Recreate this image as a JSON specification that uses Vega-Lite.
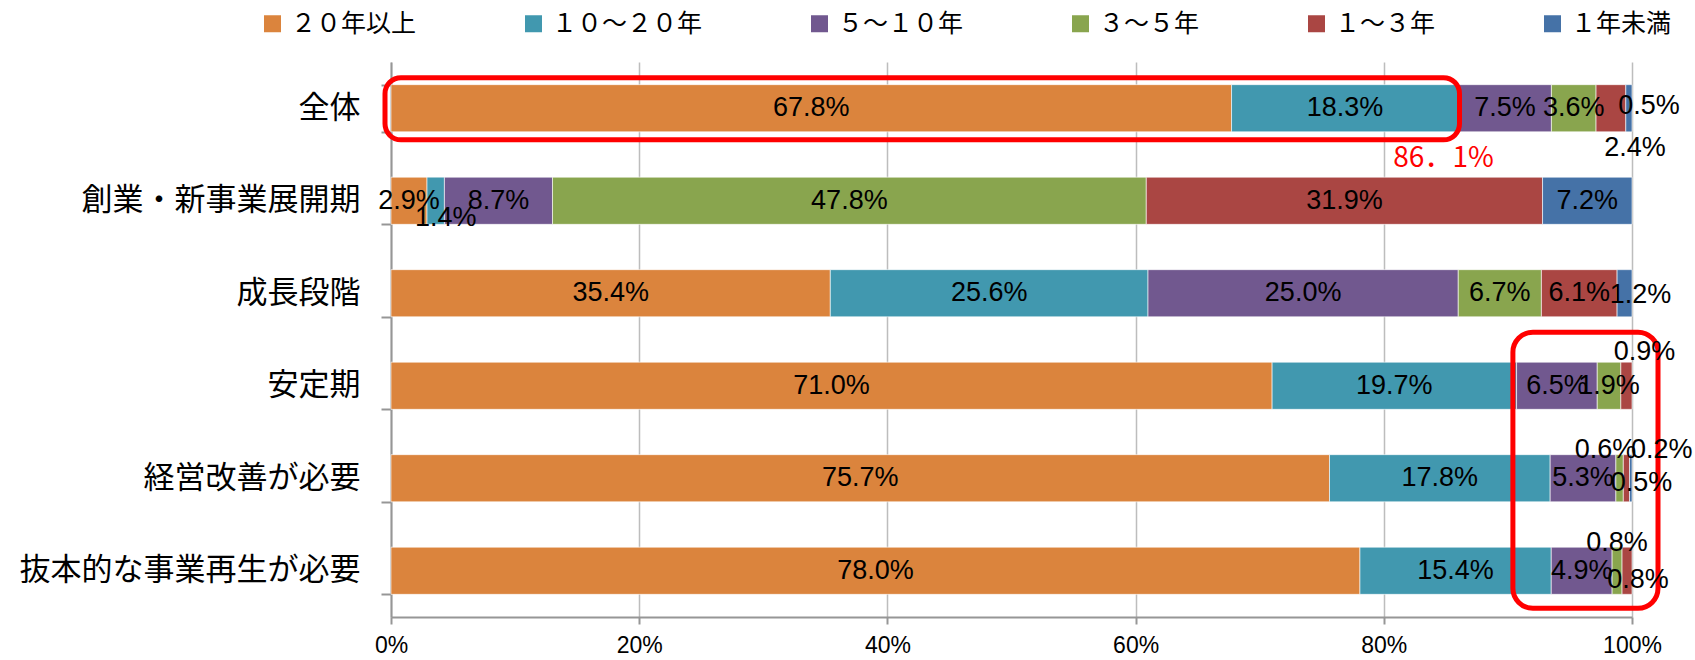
{
  "$schema": "https://vega.github.io/schema/vega-lite/v6.json",
  "width": 1241,
  "height": 555,
  "autosize": {"type": "none"},
  "padding": {"left": 391, "top": 62, "right": 63, "bottom": 43},
  "background": "#ffffff",
  "config": {
    "view": {"stroke": null},
    "axisX": {
      "grid": true, "gridColor": "#bdbdbd", "gridWidth": 1.5,
      "domainColor": "#969696", "domainWidth": 2,
      "tickColor": "#969696", "tickWidth": 2, "tickSize": 7,
      "labelFont": "Liberation Sans", "labelFontSize": 23, "labelColor": "#000000",
      "labelPadding": 10, "labelFlush": false, "labelOverlap": false
    },
    "axisY": {
      "grid": false, "domainColor": "#969696", "domainWidth": 2,
      "tickColor": "#969696", "tickWidth": 2, "tickSize": 10, "tickBand": "extent",
      "labelFont": "Noto Sans CJK JP", "labelFontSize": 31, "labelColor": "#000000",
      "labelPadding": 21, "labelLimit": 400
    }
  },
  "data": {"values": [
    {"c": "全体", "s": "２０年以上", "o": 1, "v": 0.678},
    {"c": "全体", "s": "１０～２０年", "o": 2, "v": 0.183},
    {"c": "全体", "s": "５～１０年", "o": 3, "v": 0.075},
    {"c": "全体", "s": "３～５年", "o": 4, "v": 0.036},
    {"c": "全体", "s": "１～３年", "o": 5, "v": 0.024},
    {"c": "全体", "s": "１年未満", "o": 6, "v": 0.005},
    {"c": "創業・新事業展開期", "s": "２０年以上", "o": 1, "v": 0.029},
    {"c": "創業・新事業展開期", "s": "１０～２０年", "o": 2, "v": 0.014},
    {"c": "創業・新事業展開期", "s": "５～１０年", "o": 3, "v": 0.087},
    {"c": "創業・新事業展開期", "s": "３～５年", "o": 4, "v": 0.478},
    {"c": "創業・新事業展開期", "s": "１～３年", "o": 5, "v": 0.319},
    {"c": "創業・新事業展開期", "s": "１年未満", "o": 6, "v": 0.072},
    {"c": "成長段階", "s": "２０年以上", "o": 1, "v": 0.354},
    {"c": "成長段階", "s": "１０～２０年", "o": 2, "v": 0.256},
    {"c": "成長段階", "s": "５～１０年", "o": 3, "v": 0.250},
    {"c": "成長段階", "s": "３～５年", "o": 4, "v": 0.067},
    {"c": "成長段階", "s": "１～３年", "o": 5, "v": 0.061},
    {"c": "成長段階", "s": "１年未満", "o": 6, "v": 0.012},
    {"c": "安定期", "s": "２０年以上", "o": 1, "v": 0.710},
    {"c": "安定期", "s": "１０～２０年", "o": 2, "v": 0.197},
    {"c": "安定期", "s": "５～１０年", "o": 3, "v": 0.065},
    {"c": "安定期", "s": "３～５年", "o": 4, "v": 0.019},
    {"c": "安定期", "s": "１～３年", "o": 5, "v": 0.009},
    {"c": "経営改善が必要", "s": "２０年以上", "o": 1, "v": 0.757},
    {"c": "経営改善が必要", "s": "１０～２０年", "o": 2, "v": 0.178},
    {"c": "経営改善が必要", "s": "５～１０年", "o": 3, "v": 0.053},
    {"c": "経営改善が必要", "s": "３～５年", "o": 4, "v": 0.006},
    {"c": "経営改善が必要", "s": "１～３年", "o": 5, "v": 0.005},
    {"c": "経営改善が必要", "s": "１年未満", "o": 6, "v": 0.002},
    {"c": "抜本的な事業再生が必要", "s": "２０年以上", "o": 1, "v": 0.780},
    {"c": "抜本的な事業再生が必要", "s": "１０～２０年", "o": 2, "v": 0.154},
    {"c": "抜本的な事業再生が必要", "s": "５～１０年", "o": 3, "v": 0.049},
    {"c": "抜本的な事業再生が必要", "s": "３～５年", "o": 4, "v": 0.008},
    {"c": "抜本的な事業再生が必要", "s": "１～３年", "o": 5, "v": 0.008}
  ]},
  "layer": [
    {
      "mark": {"type": "bar", "stroke": "#ffffff", "strokeWidth": 1, "strokeOpacity": 0.6},
      "encoding": {
        "y": {"field": "c", "type": "nominal", "title": null,
              "scale": {"domain": ["全体", "創業・新事業展開期", "成長段階", "安定期", "経営改善が必要", "抜本的な事業再生が必要"], "paddingInner": 0.49, "paddingOuter": 0.245}},
        "x": {"field": "v", "type": "quantitative", "stack": "normalize", "title": null,
              "scale": {"domain": [0, 1]},
              "axis": {"values": [0, 0.2, 0.4, 0.6, 0.8, 1], "format": ".0%"}},
        "color": {"field": "s", "type": "nominal",
                  "scale": {"domain": ["２０年以上", "１０～２０年", "５～１０年", "３～５年", "１～３年", "１年未満"],
                            "range": ["#DB843D", "#4198AF", "#71588F", "#89A54E", "#AA4643", "#4572A7"]},
                  "legend": {"orient": "none", "legendX": -131, "legendY": -51, "direction": "horizontal", "title": null,
                             "symbolType": "square", "symbolSize": 289, "symbolStrokeWidth": 0,
                             "labelFont": "Noto Sans CJK JP", "labelFontSize": 25, "labelColor": "#000000",
                             "labelOffset": 6, "columnPadding": 104, "labelLimit": 400}},
        "order": {"field": "o", "type": "quantitative"}
      }
    },
    {
      "data": {"values": [{"c0": "全体", "c1": "全体", "x0": 0, "x1": 0.861}]},
      "mark": {"type": "rect", "fill": null, "fillOpacity": 0, "stroke": "#FF0000", "strokeWidth": 5, "cornerRadius": 16,
               "xOffset": -6, "x2Offset": 0, "yOffset": -7, "y2Offset": 8},
      "encoding": {
        "y": {"field": "c0", "type": "nominal", "title": null, "bandPosition": 0,
              "scale": {"domain": ["全体", "創業・新事業展開期", "成長段階", "安定期", "経営改善が必要", "抜本的な事業再生が必要"]}},
        "y2": {"field": "c1", "bandPosition": 1},
        "x": {"field": "x0", "type": "quantitative", "title": null, "scale": {"domain": [0, 1]}},
        "x2": {"field": "x1"}
      }
    },
    {
      "data": {"values": [{"c0": "安定期", "c1": "抜本的な事業再生が必要", "x0": 0.9, "x1": 1.0}]},
      "mark": {"type": "rect", "fill": null, "fillOpacity": 0, "stroke": "#FF0000", "strokeWidth": 5, "cornerRadius": 20,
               "xOffset": 5, "x2Offset": 26, "yOffset": -30, "y2Offset": 14},
      "encoding": {
        "y": {"field": "c0", "type": "nominal", "title": null, "bandPosition": 0,
              "scale": {"domain": ["全体", "創業・新事業展開期", "成長段階", "安定期", "経営改善が必要", "抜本的な事業再生が必要"]}},
        "y2": {"field": "c1", "bandPosition": 1},
        "x": {"field": "x0", "type": "quantitative", "title": null, "scale": {"domain": [0, 1]}},
        "x2": {"field": "x1"}
      }
    },
    {
      "mark": {"type": "text", "font": "Liberation Sans", "fontSize": 27, "color": "#000000", "align": "center", "baseline": "middle"},
      "encoding": {
        "y": {"field": "c", "type": "nominal", "title": null},
        "x": {"field": "v", "type": "quantitative", "stack": "normalize", "bandPosition": 0.5, "title": null, "scale": {"domain": [0, 1]}},
        "detail": {"field": "s"},
        "order": {"field": "o", "type": "quantitative"},
        "text": {"field": "v", "type": "quantitative", "format": ".1%"},
        "opacity": {"condition": {"test": "indexof(['全体|１年未満','全体|１～３年','創業・新事業展開期|１０～２０年','成長段階|１年未満','安定期|１～３年','経営改善が必要|３～５年','経営改善が必要|１年未満','経営改善が必要|１～３年','抜本的な事業再生が必要|３～５年','抜本的な事業再生が必要|１～３年'], datum.c + '|' + datum.s) < 0", "value": 1}, "value": 0}
      }
    },
    {
      "mark": {"type": "text", "font": "Liberation Sans", "fontSize": 27, "color": "#000000", "align": "center", "baseline": "middle", "dx": 20, "dy": -2},
      "encoding": {
        "y": {"field": "c", "type": "nominal", "title": null},
        "x": {"field": "v", "type": "quantitative", "stack": "normalize", "bandPosition": 0.5, "title": null, "scale": {"domain": [0, 1]}},
        "detail": {"field": "s"}, "order": {"field": "o", "type": "quantitative"},
        "text": {"field": "v", "type": "quantitative", "format": ".1%"},
        "opacity": {"condition": {"test": "datum.c === '全体' && datum.s === '１年未満'", "value": 1}, "value": 0}
      }
    },
    {
      "mark": {"type": "text", "font": "Liberation Sans", "fontSize": 27, "color": "#000000", "align": "center", "baseline": "middle", "dx": 24, "dy": 40},
      "encoding": {
        "y": {"field": "c", "type": "nominal", "title": null},
        "x": {"field": "v", "type": "quantitative", "stack": "normalize", "bandPosition": 0.5, "title": null, "scale": {"domain": [0, 1]}},
        "detail": {"field": "s"}, "order": {"field": "o", "type": "quantitative"},
        "text": {"field": "v", "type": "quantitative", "format": ".1%"},
        "opacity": {"condition": {"test": "datum.c === '全体' && datum.s === '１～３年'", "value": 1}, "value": 0}
      }
    },
    {
      "mark": {"type": "text", "font": "Liberation Sans", "fontSize": 27, "color": "#000000", "align": "center", "baseline": "middle", "dx": 10, "dy": 17},
      "encoding": {
        "y": {"field": "c", "type": "nominal", "title": null},
        "x": {"field": "v", "type": "quantitative", "stack": "normalize", "bandPosition": 0.5, "title": null, "scale": {"domain": [0, 1]}},
        "detail": {"field": "s"}, "order": {"field": "o", "type": "quantitative"},
        "text": {"field": "v", "type": "quantitative", "format": ".1%"},
        "opacity": {"condition": {"test": "datum.c === '創業・新事業展開期' && datum.s === '１０～２０年'", "value": 1}, "value": 0}
      }
    },
    {
      "mark": {"type": "text", "font": "Liberation Sans", "fontSize": 27, "color": "#000000", "align": "center", "baseline": "middle", "dx": 16, "dy": 2},
      "encoding": {
        "y": {"field": "c", "type": "nominal", "title": null},
        "x": {"field": "v", "type": "quantitative", "stack": "normalize", "bandPosition": 0.5, "title": null, "scale": {"domain": [0, 1]}},
        "detail": {"field": "s"}, "order": {"field": "o", "type": "quantitative"},
        "text": {"field": "v", "type": "quantitative", "format": ".1%"},
        "opacity": {"condition": {"test": "datum.c === '成長段階' && datum.s === '１年未満'", "value": 1}, "value": 0}
      }
    },
    {
      "mark": {"type": "text", "font": "Liberation Sans", "fontSize": 27, "color": "#000000", "align": "center", "baseline": "middle", "dx": 18, "dy": -34},
      "encoding": {
        "y": {"field": "c", "type": "nominal", "title": null},
        "x": {"field": "v", "type": "quantitative", "stack": "normalize", "bandPosition": 0.5, "title": null, "scale": {"domain": [0, 1]}},
        "detail": {"field": "s"}, "order": {"field": "o", "type": "quantitative"},
        "text": {"field": "v", "type": "quantitative", "format": ".1%"},
        "opacity": {"condition": {"test": "datum.c === '安定期' && datum.s === '１～３年'", "value": 1}, "value": 0}
      }
    },
    {
      "mark": {"type": "text", "font": "Liberation Sans", "fontSize": 27, "color": "#000000", "align": "center", "baseline": "middle", "dx": -14, "dy": -28},
      "encoding": {
        "y": {"field": "c", "type": "nominal", "title": null},
        "x": {"field": "v", "type": "quantitative", "stack": "normalize", "bandPosition": 0.5, "title": null, "scale": {"domain": [0, 1]}},
        "detail": {"field": "s"}, "order": {"field": "o", "type": "quantitative"},
        "text": {"field": "v", "type": "quantitative", "format": ".1%"},
        "opacity": {"condition": {"test": "datum.c === '経営改善が必要' && datum.s === '３～５年'", "value": 1}, "value": 0}
      }
    },
    {
      "mark": {"type": "text", "font": "Liberation Sans", "fontSize": 27, "color": "#000000", "align": "center", "baseline": "middle", "dx": 31, "dy": -28},
      "encoding": {
        "y": {"field": "c", "type": "nominal", "title": null},
        "x": {"field": "v", "type": "quantitative", "stack": "normalize", "bandPosition": 0.5, "title": null, "scale": {"domain": [0, 1]}},
        "detail": {"field": "s"}, "order": {"field": "o", "type": "quantitative"},
        "text": {"field": "v", "type": "quantitative", "format": ".1%"},
        "opacity": {"condition": {"test": "datum.c === '経営改善が必要' && datum.s === '１年未満'", "value": 1}, "value": 0}
      }
    },
    {
      "mark": {"type": "text", "font": "Liberation Sans", "fontSize": 27, "color": "#000000", "align": "center", "baseline": "middle", "dx": 15, "dy": 5},
      "encoding": {
        "y": {"field": "c", "type": "nominal", "title": null},
        "x": {"field": "v", "type": "quantitative", "stack": "normalize", "bandPosition": 0.5, "title": null, "scale": {"domain": [0, 1]}},
        "detail": {"field": "s"}, "order": {"field": "o", "type": "quantitative"},
        "text": {"field": "v", "type": "quantitative", "format": ".1%"},
        "opacity": {"condition": {"test": "datum.c === '経営改善が必要' && datum.s === '１～３年'", "value": 1}, "value": 0}
      }
    },
    {
      "mark": {"type": "text", "font": "Liberation Sans", "fontSize": 27, "color": "#000000", "align": "center", "baseline": "middle", "dx": 0, "dy": -28},
      "encoding": {
        "y": {"field": "c", "type": "nominal", "title": null},
        "x": {"field": "v", "type": "quantitative", "stack": "normalize", "bandPosition": 0.5, "title": null, "scale": {"domain": [0, 1]}},
        "detail": {"field": "s"}, "order": {"field": "o", "type": "quantitative"},
        "text": {"field": "v", "type": "quantitative", "format": ".1%"},
        "opacity": {"condition": {"test": "datum.c === '抜本的な事業再生が必要' && datum.s === '３～５年'", "value": 1}, "value": 0}
      }
    },
    {
      "mark": {"type": "text", "font": "Liberation Sans", "fontSize": 27, "color": "#000000", "align": "center", "baseline": "middle", "dx": 11, "dy": 9},
      "encoding": {
        "y": {"field": "c", "type": "nominal", "title": null},
        "x": {"field": "v", "type": "quantitative", "stack": "normalize", "bandPosition": 0.5, "title": null, "scale": {"domain": [0, 1]}},
        "detail": {"field": "s"}, "order": {"field": "o", "type": "quantitative"},
        "text": {"field": "v", "type": "quantitative", "format": ".1%"},
        "opacity": {"condition": {"test": "datum.c === '抜本的な事業再生が必要' && datum.s === '１～３年'", "value": 1}, "value": 0}
      }
    },
    {
      "data": {"values": [{"c": "全体", "x": 0.861, "t": "86．1%"}]},
      "mark": {"type": "text", "font": "Noto Sans CJK JP", "fontSize": 28, "color": "#FF0000", "align": "center", "baseline": "middle", "dx": -16, "dy": 51},
      "encoding": {
        "y": {"field": "c", "type": "nominal", "title": null},
        "x": {"field": "x", "type": "quantitative", "title": null, "scale": {"domain": [0, 1]}},
        "text": {"field": "t", "type": "nominal"}
      }
    }
  ]
}
